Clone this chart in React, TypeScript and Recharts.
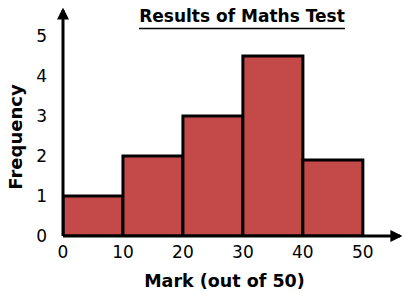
import React from "react";
import { BarChart, Bar, XAxis, YAxis } from "recharts";

const binStarts = [0, 10, 20, 30, 40];
const frequencies = [1, 2, 3, 4.5, 1.9];
const xTicks = [0, 10, 20, 30, 40, 50];
const yTicks = [0, 1, 2, 3, 4, 5];

const data = binStarts.map((s, i) => ({ mid: s + 5, freq: frequencies[i] }));

const font = "'DejaVu Sans', Verdana, sans-serif";

const App = () => (
  <div style={{ position: "absolute", left: 0, top: 0 }}>
    <BarChart
      width={405}
      height={293}
      data={data}
      margin={{ top: 10, right: 5, bottom: 0, left: 0 }}
      barCategoryGap={0}
    >
      <defs>
        <marker id="arrow" viewBox="0 0 10 10" refX="8" refY="5" markerWidth="4" markerHeight="5" orient="auto-start-reverse">
          <path d="M0,0 L10,5 L0,10 z" fill="#000" />
        </marker>
      </defs>
      <XAxis
        dataKey="mid"
        type="number"
        domain={[0, 56.2]}
        ticks={xTicks}
        allowDataOverflow
        tickLine={false}
        axisLine={{ stroke: "#000", strokeWidth: 3, markerEnd: "url(#arrow)" }}
        tick={{ fill: "#000", fontSize: 17, fontFamily: font }}
        tickMargin={4}
        height={57}
        label={{ value: "Mark (out of 50)", position: "insideBottom", offset: 6, dx: -7, fill: "#000", fontSize: 17.5, fontWeight: "bold", fontFamily: font }}
      />
      <YAxis
        type="number"
        domain={[0, 5.65]}
        ticks={yTicks}
        allowDataOverflow
        tickLine={false}
        axisLine={{ stroke: "#000", strokeWidth: 3, markerStart: "url(#arrow)" }}
        tick={{ fill: "#000", fontSize: 17, fontFamily: font }}
        tickMargin={10}
        width={63}
      />
      <Bar dataKey="freq" fill="#c44a4a" stroke="#000" strokeWidth={3} isAnimationActive={false} />
      <text x={242} y={22} textAnchor="middle" fontSize={17} fontWeight="bold" fontFamily={font} fill="#000">
        Results of Maths Test
      </text>
      <line x1={139} x2={345} y1={28.5} y2={28.5} stroke="#000" strokeWidth={1.5} />
      <text
        x={0}
        y={0}
        transform="translate(22, 137) rotate(-90)"
        textAnchor="middle"
        fontSize={18}
        fontWeight="bold"
        fontFamily={font}
        fill="#000"
      >
        Frequency
      </text>
    </BarChart>
  </div>
);

export default App;
